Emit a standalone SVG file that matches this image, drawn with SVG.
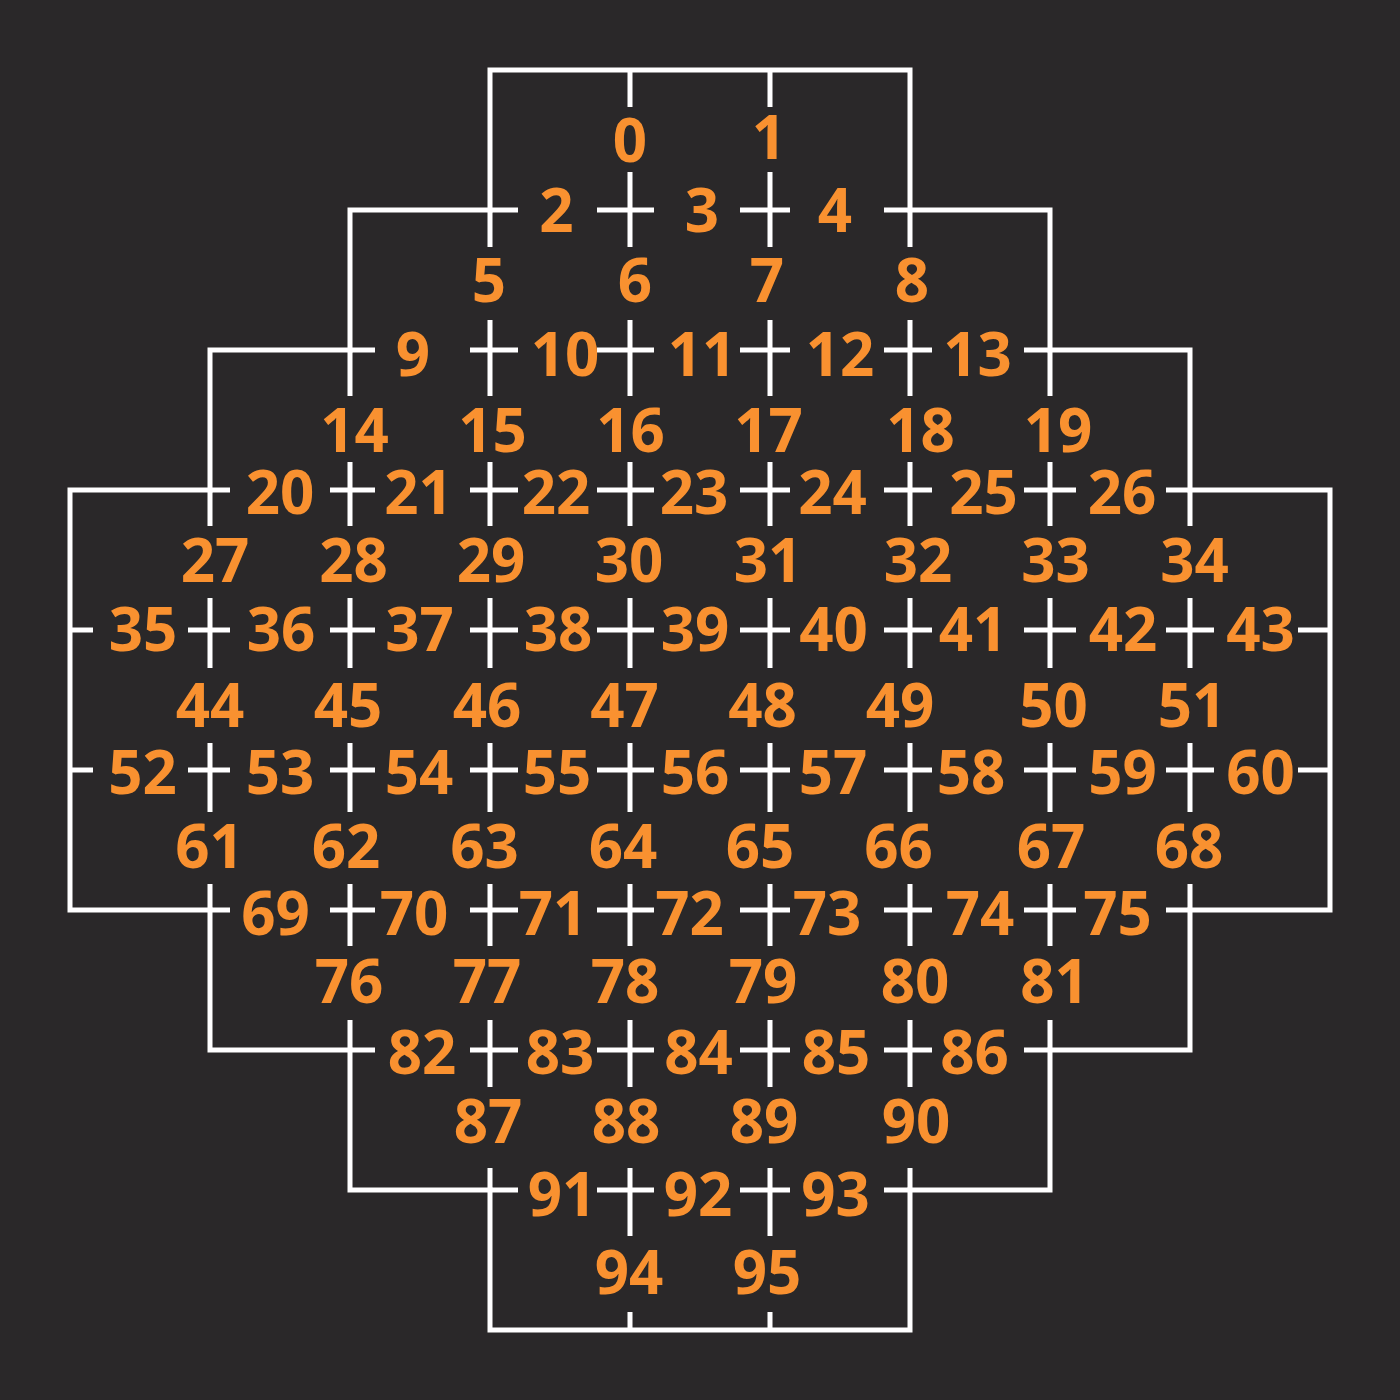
<svg xmlns="http://www.w3.org/2000/svg" width="1400" height="1400" viewBox="0 0 1400 1400">
<style>
.bg{fill:#2a2829}
.wall{fill:none;stroke:#ffffff;stroke-width:5;stroke-linecap:butt;stroke-linejoin:miter}
text{font-family:"Open Sans","Noto Sans","Liberation Sans",sans-serif;font-weight:700;font-size:60px;fill:#f99130;text-anchor:middle}
</style>
<rect class="bg" x="0" y="0" width="1400" height="1400"/>
<g id="connectors">
<path id="boundary" class="wall" d="M490 70H910V210H1050V350H1190V490H1330V910H1190V1050H1050V1190H910V1330H490V1190H350V1050H210V910H70V490H210V350H350V210H490Z"/>
<path id="walls-h" class="wall" d="M490 210H518M597 210H654M740 210H790M884 210H910
M350 350H375M470 350H518M597 350H654M740 350H790M884 350H932M1024 350H1050
M210 490H230M330 490H375M470 490H518M597 490H654M740 490H790M884 490H932M1024 490H1076M1166 490H1190
M70 630H93M188 630H230M330 630H375M470 630H518M597 630H654M740 630H790M884 630H932M1024 630H1076M1166 630H1214M1298 630H1330
M70 770H93M188 770H230M330 770H375M470 770H518M597 770H654M740 770H790M884 770H932M1024 770H1076M1166 770H1214M1298 770H1330
M210 910H230M330 910H375M470 910H518M597 910H654M740 910H790M884 910H932M1024 910H1076M1166 910H1190
M350 1050H375M470 1050H518M597 1050H654M740 1050H790M884 1050H932M1024 1050H1050
M490 1190H518M597 1190H654M740 1190H790M884 1190H910"/>
<path id="walls-v" class="wall" d="M630 70V107M630 172V247M630 320V396M630 462V526M630 598V668M630 743V812M630 884V946M630 1020V1087M630 1168V1236M630 1312V1330
M770 70V107M770 172V247M770 320V396M770 462V526M770 598V668M770 743V812M770 884V946M770 1020V1087M770 1168V1236M770 1312V1330
M490 210V247M490 320V396M490 462V526M490 598V668M490 743V812M490 884V946M490 1020V1087M490 1168V1190
M910 210V247M910 320V396M910 462V526M910 598V668M910 743V812M910 884V946M910 1020V1087M910 1168V1190
M350 350V396M350 462V526M350 598V668M350 743V812M350 884V946M350 1020V1050
M1050 350V396M1050 462V526M1050 598V668M1050 743V812M1050 884V946M1050 1020V1050
M210 490V526M210 598V668M210 743V812M210 884V910
M1190 490V526M1190 598V668M1190 743V812M1190 884V910"/>
</g>
<g id="labels">
<text id="e0" x="630" y="162">0</text>
<text id="e1" x="769" y="159">1</text>
<text id="e2" x="556.5" y="232">2</text>
<text id="e3" x="702" y="232">3</text>
<text id="e4" x="835" y="232">4</text>
<text id="e5" x="489" y="302">5</text>
<text id="e6" x="635" y="302">6</text>
<text id="e7" x="767" y="302">7</text>
<text id="e8" x="912" y="302">8</text>
<text id="e9" x="413" y="376">9</text>
<text id="e10" x="565" y="376">10</text>
<text id="e11" x="702" y="376">11</text>
<text id="e12" x="840" y="376">12</text>
<text id="e13" x="977.5" y="376">13</text>
<text id="e14" x="354.5" y="452">14</text>
<text id="e15" x="492.5" y="452">15</text>
<text id="e16" x="630.5" y="452">16</text>
<text id="e17" x="768.5" y="452">17</text>
<text id="e18" x="920.5" y="452">18</text>
<text id="e19" x="1058" y="452">19</text>
<text id="e20" x="280" y="514">20</text>
<text id="e21" x="418.5" y="513.5">21</text>
<text id="e22" x="556" y="513.5">22</text>
<text id="e23" x="694" y="513.5">23</text>
<text id="e24" x="832.5" y="513.5">24</text>
<text id="e25" x="983.5" y="513.5">25</text>
<text id="e26" x="1122" y="513.5">26</text>
<text id="e27" x="215" y="581.5">27</text>
<text id="e28" x="353.5" y="581.5">28</text>
<text id="e29" x="491" y="581.5">29</text>
<text id="e30" x="629" y="581.5">30</text>
<text id="e31" x="768" y="581.5">31</text>
<text id="e32" x="918" y="581.5">32</text>
<text id="e33" x="1055.5" y="581.5">33</text>
<text id="e34" x="1194.5" y="581.5">34</text>
<text id="e35" x="143" y="651">35</text>
<text id="e36" x="281" y="651">36</text>
<text id="e37" x="419.5" y="651">37</text>
<text id="e38" x="558" y="651">38</text>
<text id="e39" x="695" y="651">39</text>
<text id="e40" x="833.5" y="651">40</text>
<text id="e41" x="973" y="651">41</text>
<text id="e42" x="1123" y="651">42</text>
<text id="e43" x="1260.5" y="651">43</text>
<text id="e44" x="210" y="727">44</text>
<text id="e45" x="348" y="727">45</text>
<text id="e46" x="487" y="727">46</text>
<text id="e47" x="624.5" y="727">47</text>
<text id="e48" x="762.5" y="727">48</text>
<text id="e49" x="900" y="727">49</text>
<text id="e50" x="1053.5" y="727">50</text>
<text id="e51" x="1192" y="727">51</text>
<text id="e52" x="142.5" y="793.5">52</text>
<text id="e53" x="280" y="793.5">53</text>
<text id="e54" x="419" y="793.5">54</text>
<text id="e55" x="557" y="793.5">55</text>
<text id="e56" x="695" y="793.5">56</text>
<text id="e57" x="833" y="793.5">57</text>
<text id="e58" x="971" y="793.5">58</text>
<text id="e59" x="1122.5" y="793.5">59</text>
<text id="e60" x="1260.5" y="793.5">60</text>
<text id="e61" x="209.5" y="868">61</text>
<text id="e62" x="346" y="868">62</text>
<text id="e63" x="484.5" y="868">63</text>
<text id="e64" x="623" y="868">64</text>
<text id="e65" x="760" y="868">65</text>
<text id="e66" x="898.5" y="868">66</text>
<text id="e67" x="1051" y="868">67</text>
<text id="e68" x="1189" y="868">68</text>
<text id="e69" x="275.5" y="934.5">69</text>
<text id="e70" x="414" y="934.5">70</text>
<text id="e71" x="553" y="935">71</text>
<text id="e72" x="689.5" y="935">72</text>
<text id="e73" x="827" y="934.5">73</text>
<text id="e74" x="980" y="934.5">74</text>
<text id="e75" x="1117.5" y="934.5">75</text>
<text id="e76" x="349" y="1003">76</text>
<text id="e77" x="487" y="1003">77</text>
<text id="e78" x="625" y="1003">78</text>
<text id="e79" x="763" y="1003">79</text>
<text id="e80" x="915" y="1003">80</text>
<text id="e81" x="1054.5" y="1003">81</text>
<text id="e82" x="422" y="1074">82</text>
<text id="e83" x="560" y="1074">83</text>
<text id="e84" x="698.5" y="1074">84</text>
<text id="e85" x="836" y="1074">85</text>
<text id="e86" x="974.5" y="1074">86</text>
<text id="e87" x="488" y="1143">87</text>
<text id="e88" x="626" y="1143">88</text>
<text id="e89" x="764" y="1143">89</text>
<text id="e90" x="916" y="1142.5">90</text>
<text id="e91" x="562" y="1216">91</text>
<text id="e92" x="698" y="1216">92</text>
<text id="e93" x="835.5" y="1216">93</text>
<text id="e94" x="629" y="1294">94</text>
<text id="e95" x="767" y="1294">95</text>
</g>
</svg>
